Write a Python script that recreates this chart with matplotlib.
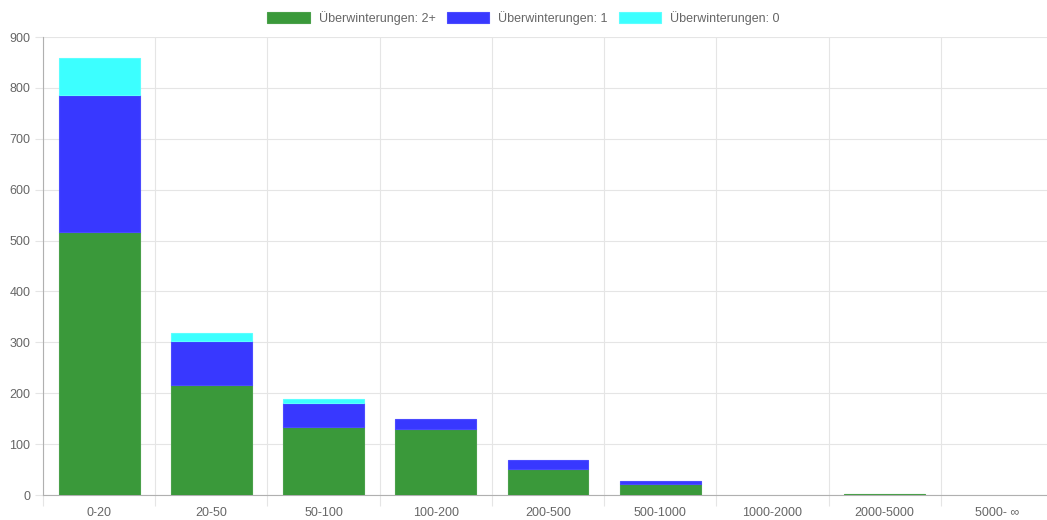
import matplotlib
matplotlib.use("Agg")
import matplotlib.pyplot as plt
import numpy as np

categories = ["0-20", "20-50", "50-100", "100-200", "200-500", "500-1000",
              "1000-2000", "2000-5000", "5000- \u221e"]
winters_2plus = [517, 217, 134, 129, 52, 21, 0, 1, 0]
winters_1 = [269, 85, 47, 20, 17, 7, 0, 0, 0]
winters_0 = [73, 16, 7, 0, 0, 0, 0, 0, 0]
series_labels = ["Überwinterungen: 2+", "Überwinterungen: 1", "Überwinterungen: 0"]
colors = ["#3A993A", "#3838FF", "#3CFFFF"]
edge_colors = ["#4AA04A", "#4B4BFF", "#5CFFFF"]
yticks = list(range(0, 901, 100))

plt.rcParams['font.family'] = ['Liberation Sans', 'DejaVu Sans']

W, H = 1047, 520
fig = plt.figure(figsize=(W / 100, H / 100), dpi=100)
left, right, top, bottom = 43, 1053, 37, 495
ax = fig.add_axes([left / W, 1 - bottom / H, (right - left) / W, (bottom - top) / H])

x = np.arange(len(categories))
bottoms = np.zeros(len(categories))
handles = []
for vals, lab, c, ec in zip([winters_2plus, winters_1, winters_0], series_labels, colors, edge_colors):
    vals = np.array(vals, dtype=float)
    lws = [0.8 if v > 0 else 0 for v in vals]
    b = ax.bar(x, vals, width=0.72, bottom=bottoms, color=c, edgecolor=ec,
               linewidth=lws, label=lab, zorder=3)
    handles.append(b)
    bottoms += vals

ax.set_xlim(-0.5, len(categories) - 0.5)
ax.set_ylim(0, 900)
ax.set_yticks(yticks)
ax.set_xticks(np.arange(len(categories) + 1) - 0.5, minor=False)
ax.set_xticklabels([])
ax.set_xticks(x, minor=True)
ax.set_xticklabels(categories, minor=True)

ax.grid(True, axis='y', color='#e5e5e5', linewidth=0.8, zorder=0)
ax.grid(True, axis='x', which='major', color='#e5e5e5', linewidth=0.8, zorder=0)

ax.tick_params(axis='y', which='major', length=6, color='#e5e5e5', labelcolor='#666666',
               labelsize=9, pad=3)
ax.tick_params(axis='x', which='major', length=8, color='#e5e5e5')
ax.tick_params(axis='x', which='minor', length=0, labelcolor='#666666', labelsize=9, pad=9)

for s in ['top', 'right']:
    ax.spines[s].set_visible(False)
ax.spines['left'].set_color('#b0b0b0')
ax.spines['bottom'].set_color('#b0b0b0')
ax.spines['left'].set_linewidth(0.8)
ax.spines['bottom'].set_linewidth(0.8)
ax.set_axisbelow(True)

fig.legend(handles=handles, labels=series_labels, loc='center', bbox_to_anchor=(0.5, 1 - 18 / H),
           ncol=3, frameon=False, fontsize=9, handlelength=3.4, handleheight=1.0,
           handletextpad=0.7, columnspacing=0.9, labelcolor='#666666')

fig.savefig("out.png", dpi=100)
